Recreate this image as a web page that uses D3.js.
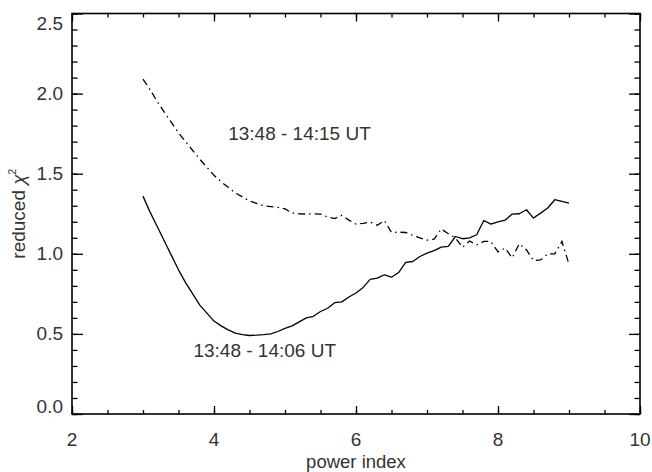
<!DOCTYPE html>
<html>
<head>
<meta charset="utf-8">
<script src="https://cdn.jsdelivr.net/npm/d3@7"></script>
<style>
  html, body { margin: 0; padding: 0; background: #fff; }
  svg { display: block; }
  text { font-family: "Liberation Sans", Arial, Helvetica, sans-serif; fill: #333; }
</style>
</head>
<body>
<svg id="chart" width="652" height="472"></svg>
<script>
// ---- data ----
const powerIndex = d3.range(61).map(i => +(3 + i * 0.1).toFixed(1)); // 3.0 .. 9.0 step 0.1
const chi2_1406 = [
  1.36, 1.26, 1.17, 1.08, 0.99, 0.90, 0.82, 0.75, 0.68, 0.63,
  0.58, 0.55, 0.525, 0.505, 0.495, 0.49, 0.492, 0.495, 0.50, 0.515,
  0.535, 0.55, 0.575, 0.60, 0.61, 0.64, 0.66, 0.695, 0.70, 0.73,
  0.755, 0.79, 0.84, 0.848, 0.869, 0.854, 0.883, 0.946, 0.952, 0.983,
  1.004, 1.02, 1.042, 1.046, 1.108, 1.094, 1.10, 1.119, 1.208, 1.185,
  1.20, 1.21, 1.248, 1.25, 1.275, 1.223, 1.254, 1.286, 1.3375, 1.327,
  1.317
];
const chi2_1415 = [
  2.09, 2.025, 1.95, 1.885, 1.82, 1.755, 1.70, 1.645, 1.59, 1.54,
  1.49, 1.45, 1.415, 1.38, 1.355, 1.33, 1.315, 1.30, 1.295, 1.29,
  1.28, 1.255, 1.25, 1.248, 1.25, 1.248, 1.23, 1.22, 1.24, 1.21,
  1.185, 1.19, 1.198, 1.178, 1.208, 1.133, 1.135, 1.133, 1.115, 1.10,
  1.085, 1.092, 1.155, 1.125, 1.10, 1.04, 1.08, 1.056, 1.077, 1.077,
  1.012, 1.035, 0.975, 1.0625, 1.025, 0.958, 0.962, 1.0, 1.0, 1.077,
  0.935
];
const xMajorTicks = [2, 4, 6, 8, 10];
const xTickLabels = ["2", "4", "6", "8", "10"];
const yMajorTicks = [0, 0.5, 1.0, 1.5, 2.0, 2.5];
const yTickLabels = ["0.0", "0.5", "1.0", "1.5", "2.0", "2.5"];
const xMinorTicks = d3.range(2, 10.001, 0.5);
const yMinorTicks = d3.range(0, 2.5001, 0.1).map(v => +v.toFixed(1));
const annotations = [
  { text: "13:48 - 14:15 UT", x: 4.2, y: 1.71 },
  { text: "13:48 - 14:06 UT", x: 3.71, y: 0.354 }
];

// ---- layout ----
const svg = d3.select("#chart");
const L = 72, R = 640, T = 13.5, B = 414;
const x = d3.scaleLinear().domain([2, 10]).range([L, R]);
const y = d3.scaleLinear().domain([0, 2.5]).range([B, T]);

const axisColor = "#000";
function styleAxis(g) {
  g.select(".domain").remove();
  g.selectAll("line").attr("stroke", axisColor).attr("stroke-width", 1.3);
  g.selectAll("text").remove();
}

// minor + major ticks on all four sides (pointing inward)
svg.append("g").attr("transform", `translate(0,${B})`)
  .call(d3.axisBottom(x).tickValues(xMinorTicks).tickSize(-4).tickFormat("")).call(styleAxis);
svg.append("g").attr("transform", `translate(0,${B})`)
  .call(d3.axisBottom(x).tickValues(xMajorTicks).tickSize(-8).tickFormat("")).call(styleAxis);
svg.append("g").attr("transform", `translate(0,${T})`)
  .call(d3.axisTop(x).tickValues(xMinorTicks).tickSize(-4).tickFormat("")).call(styleAxis);
svg.append("g").attr("transform", `translate(0,${T})`)
  .call(d3.axisTop(x).tickValues(xMajorTicks).tickSize(-8).tickFormat("")).call(styleAxis);
svg.append("g").attr("transform", `translate(${L},0)`)
  .call(d3.axisLeft(y).tickValues(yMinorTicks).tickSize(-5.5).tickFormat("")).call(styleAxis);
svg.append("g").attr("transform", `translate(${L},0)`)
  .call(d3.axisLeft(y).tickValues(yMajorTicks).tickSize(-11).tickFormat("")).call(styleAxis);
svg.append("g").attr("transform", `translate(${R},0)`)
  .call(d3.axisRight(y).tickValues(yMinorTicks).tickSize(-5.5).tickFormat("")).call(styleAxis);
svg.append("g").attr("transform", `translate(${R},0)`)
  .call(d3.axisRight(y).tickValues(yMajorTicks).tickSize(-11).tickFormat("")).call(styleAxis);

// frame
svg.append("rect")
  .attr("x", L).attr("y", T).attr("width", R - L).attr("height", B - T)
  .attr("fill", "none").attr("stroke", axisColor).attr("stroke-width", 1.6);

// tick labels
svg.append("g").selectAll("text").data(xMajorTicks).join("text")
  .attr("x", d => x(d)).attr("y", 446)
  .attr("text-anchor", "middle").attr("font-size", 19)
  .text((d, i) => xTickLabels[i]);

svg.append("g").selectAll("text").data(yMajorTicks).join("text")
  .attr("x", 63)
  .attr("y", (d, i) => {
    if (i === yMajorTicks.length - 1) return y(d) + 16;
    if (i === 0) return y(d) - 1;
    return y(d) + 6.5;
  })
  .attr("text-anchor", "end").attr("font-size", 19)
  .text((d, i) => yTickLabels[i]);

// axis titles
svg.append("text")
  .attr("x", (L + R) / 2).attr("y", 467.5)
  .attr("text-anchor", "middle").attr("font-size", 18.5)
  .text("power index");

const yt = svg.append("text")
  .attr("transform", `translate(25,${(T + B) / 2}) rotate(-90)`)
  .attr("text-anchor", "middle").attr("font-size", 19);
yt.append("tspan").text("reduced ");
yt.append("tspan").attr("font-style", "italic").text("χ");
yt.append("tspan").attr("font-size", 10).attr("dy", -9).text("2");

// curves
const line = d3.line().x((d, i) => x(powerIndex[i])).y(d => y(d));
svg.append("path").datum(chi2_1406)
  .attr("d", line).attr("fill", "none").attr("stroke", "#000")
  .attr("stroke-width", 1.3).attr("stroke-linejoin", "round");
svg.append("path").datum(chi2_1415)
  .attr("d", line).attr("fill", "none").attr("stroke", "#000")
  .attr("stroke-width", 1.3).attr("stroke-dasharray", "7,4,1.5,4");

// annotations
svg.append("g").selectAll("text").data(annotations).join("text")
  .attr("x", d => x(d.x)).attr("y", d => y(d.y))
  .attr("font-size", 19)
  .text(d => d.text);
</script>
</body>
</html>
